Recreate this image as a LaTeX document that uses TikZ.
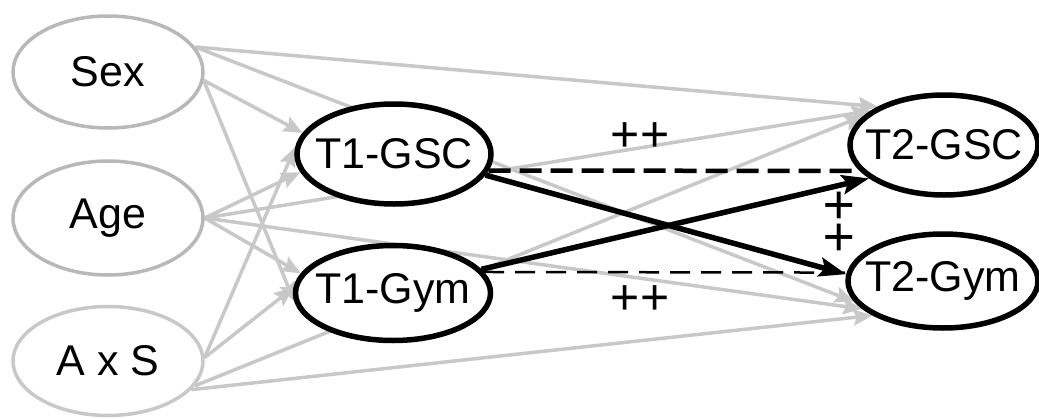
\documentclass[tikz,border=0pt]{standalone}
\usepackage{fontspec}
\setmainfont{Liberation Sans}
\usetikzlibrary{arrows.meta}
\usetikzlibrary{shapes.geometric}
\usetikzlibrary{backgrounds}
\definecolor{pathgray}{HTML}{C8C8C8}
\definecolor{covline}{HTML}{B8B8B8}
\definecolor{axsline}{HTML}{C8C8C8}

\begin{document}
\begin{tikzpicture}[x=1pt, y=-1pt, cov/.style={ellipse, draw=covline, line width=3.5pt, fill=white, inner sep=0pt, minimum width=190pt}]
    \tikzset{lat/.style={ellipse, draw=black, line width=5.5pt, fill=white, inner xsep=-14pt, inner ysep=0pt}}
    \tikzset{gpath/.style={draw=pathgray, line width=3.5pt, -{Stealth[length=19pt, width=16pt, inset=3pt]}}}
    \tikzset{bpath/.style={draw=black, line width=5.5pt, -{Stealth[length=27pt, width=19pt, inset=5pt]}}}
    \tikzset{signlabel/.style={inner sep=0pt, font=\fontsize{50}{60}\selectfont}}
    \fontsize{43}{51}\selectfont
    \useasboundingbox (0,0) rectangle (1039,418);

    % covariates
    \node[cov, minimum height=112pt] (sex) at (108,72) {Sex};
    \node[cov, minimum height=114pt] (age) at (108,218) {Age};
    \node[cov, draw=axsline, minimum height=109pt] (axs) at (108,361) {A x S};
    % time 1 and time 2
    \node[lat, minimum width=194pt, minimum height=100pt] (t1gsc) at (394,154) {T1-GSC};
    \node[lat, minimum width=195pt, minimum height=95pt] (t1gym) at (393,293) {T1-Gym};
    \node[lat, minimum width=188pt, minimum height=100pt] (t2gsc) at (944,145) {T2-GSC};
    \node[lat, minimum width=190pt, minimum height=94pt] (t2gym) at (943,281) {T2-Gym};

    \begin{scope}[on background layer]
    \draw[gpath] (sex.16) -- (t2gsc.150);
    \draw[gpath] (sex.16) -- (t2gym.193);
    \draw[gpath] (sex.-5) -- (t1gsc.167);
    \draw[gpath] (sex.-5) -- (t1gym.185);
    \draw[gpath] (age.east) -- (t1gsc.191);
    \draw[gpath] (age.east) -- (t1gym.168);
    \draw[gpath] (age.east) -- (t2gsc.155);
    \draw[gpath] (age.east) -- (t2gym.199);
    \draw[gpath] (axs.2) -- (t1gsc.176);
    \draw[gpath] (axs.2) -- (t1gym.177);
    \draw[gpath] (axs.-16) -- (t2gsc.160);
    \draw[gpath] (axs.-19) -- (t2gym.206);

    \draw[bpath] (t1gsc.-13) -- (t2gym.176);
    \draw[bpath] (t1gym.15) -- (t2gsc.204);
    \draw[black, line width=4.5pt, dash pattern=on 22pt off 9pt] (t1gsc.-10) -- (t2gsc.197);
    \draw[black, line width=2.5pt, dash pattern=on 20pt off 11pt] (t1gym.13) -- (t2gym.175);
    \end{scope}

    \node[signlabel] (topsign) at (640,137) {++};
    \node[signlabel] (lowsign) at (640,300) {++};
    \node[signlabel, rotate=90, font=\fontsize{55}{66}\selectfont] (sidesign) at (842,221) {++};
\end{tikzpicture}
\end{document}
